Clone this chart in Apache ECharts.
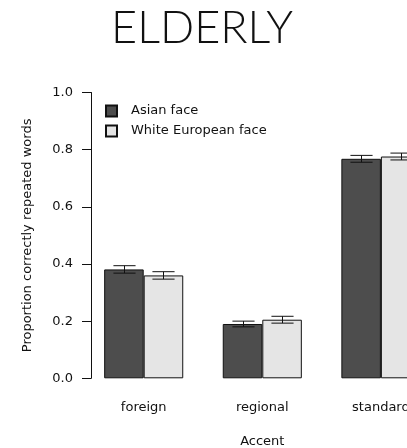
<!DOCTYPE html>
<html>
<head>
<meta charset="utf-8">
<script src="https://cdn.jsdelivr.net/npm/echarts@6/dist/echarts.min.js"></script>
<style>
  html, body { margin: 0; padding: 0; background: #ffffff; }
  #chart { width: 407px; height: 448px; }
</style>
</head>
<body>
<div id="chart"></div>
<script>
// Proportion of correctly repeated words, elderly listeners, by accent and face
const accents = ['foreign', 'regional', 'standard'];
const seriesNames = ['Asian face', 'White European face'];
const asianMean = [0.381, 0.190, 0.768];
const asianSE = [0.013, 0.010, 0.012];
const whiteMean = [0.360, 0.205, 0.776];
const whiteSE = [0.013, 0.012, 0.012];
const yTicks = [0.0, 0.2, 0.4, 0.6, 0.8, 1.0];

const fills = ['#4d4d4d', '#e5e5e5'];
const font = 'DejaVu Sans';

const chart = echarts.init(document.getElementById('chart'));

function errorData(means, ses) {
  return means.map((m, i) => [i, m, ses[i]]);
}

// Whiskers with caps, shifted onto the left/right bar of each pair
function errorRenderer(side) {
  return function (params, api) {
    const idx = api.value(0);
    const mean = api.value(1);
    const se = api.value(2);
    const band = api.size([1, 0])[0];
    const barW = band / 3;
    const dx = side * barW / 2;
    const top = api.coord([idx, mean + se]);
    const bot = api.coord([idx, mean - se]);
    const x = Math.round(top[0] + dx) + 0.5;
    const cap = barW * 0.28;
    const style = { stroke: '#111111', lineWidth: 1 };
    return {
      type: 'group',
      children: [
        { type: 'line', shape: { x1: x, y1: top[1], x2: x, y2: bot[1] }, style },
        { type: 'line', shape: { x1: x - cap, y1: top[1], x2: x + cap, y2: top[1] }, style },
        { type: 'line', shape: { x1: x - cap, y1: bot[1], x2: x + cap, y2: bot[1] }, style }
      ]
    };
  };
}

const option = {
  backgroundColor: '#ffffff',
  animation: false,
  title: {
    text: 'ELDERLY',
    left: 197,
    top: 1,
    textAlign: 'center',
    textStyle: { fontFamily: 'Lato', fontWeight: 300, fontSize: 45, color: '#111111' }
  },
  legend: {
    orient: 'vertical',
    left: 105,
    top: 104.5,
    padding: 0,
    itemWidth: 11,
    itemHeight: 11,
    itemGap: 7,
    icon: 'rect',
    data: seriesNames,
    textStyle: { fontFamily: font, fontSize: 13, color: '#111111', padding: [0, 0, 0, 9] }
  },
  grid: {
    left: 84.4,
    top: 92.5,
    width: 355.8,
    height: 285.8,
    containLabel: false,
    outerBoundsMode: 'none'
  },
  xAxis: {
    type: 'category',
    data: accents,
    name: 'Accent',
    nameLocation: 'middle',
    nameGap: 57,
    nameTextStyle: { fontFamily: font, fontSize: 13, color: '#111111' },
    axisLine: { show: false },
    axisTick: { show: false },
    axisLabel: { margin: 23, fontFamily: font, fontSize: 13, color: '#111111' }
  },
  yAxis: {
    type: 'value',
    min: 0,
    max: 1,
    interval: 0.2,
    offset: -6.6,
    name: 'Proportion correctly repeated words',
    nameLocation: 'middle',
    nameRotate: 90,
    nameGap: 57,
    nameTextStyle: { fontFamily: font, fontSize: 13, color: '#111111' },
    splitLine: { show: false },
    axisLine: { show: true, lineStyle: { color: '#111111', width: 1 } },
    axisTick: { show: true, inside: false, length: 9, lineStyle: { color: '#111111' } },
    axisLabel: {
      margin: 18,
      fontFamily: font,
      fontSize: 13,
      color: '#111111',
      formatter: v => yTicks.includes(+v.toFixed(1)) ? v.toFixed(1) : ''
    }
  },
  series: [
    {
      name: seriesNames[0],
      type: 'bar',
      data: asianMean,
      barGap: '0%',
      barCategoryGap: '33.33%',
      itemStyle: { color: fills[0], borderColor: '#111111', borderWidth: 1 }
    },
    {
      name: seriesNames[1],
      type: 'bar',
      data: whiteMean,
      barGap: '0%',
      barCategoryGap: '33.33%',
      itemStyle: { color: fills[1], borderColor: '#111111', borderWidth: 1 }
    },
    {
      type: 'custom',
      renderItem: errorRenderer(-1),
      data: errorData(asianMean, asianSE),
      encode: { x: 0, y: 1 },
      z: 5,
      silent: true
    },
    {
      type: 'custom',
      renderItem: errorRenderer(1),
      data: errorData(whiteMean, whiteSE),
      encode: { x: 0, y: 1 },
      z: 5,
      silent: true
    }
  ]
};

chart.setOption(option);
</script>
</body>
</html>
